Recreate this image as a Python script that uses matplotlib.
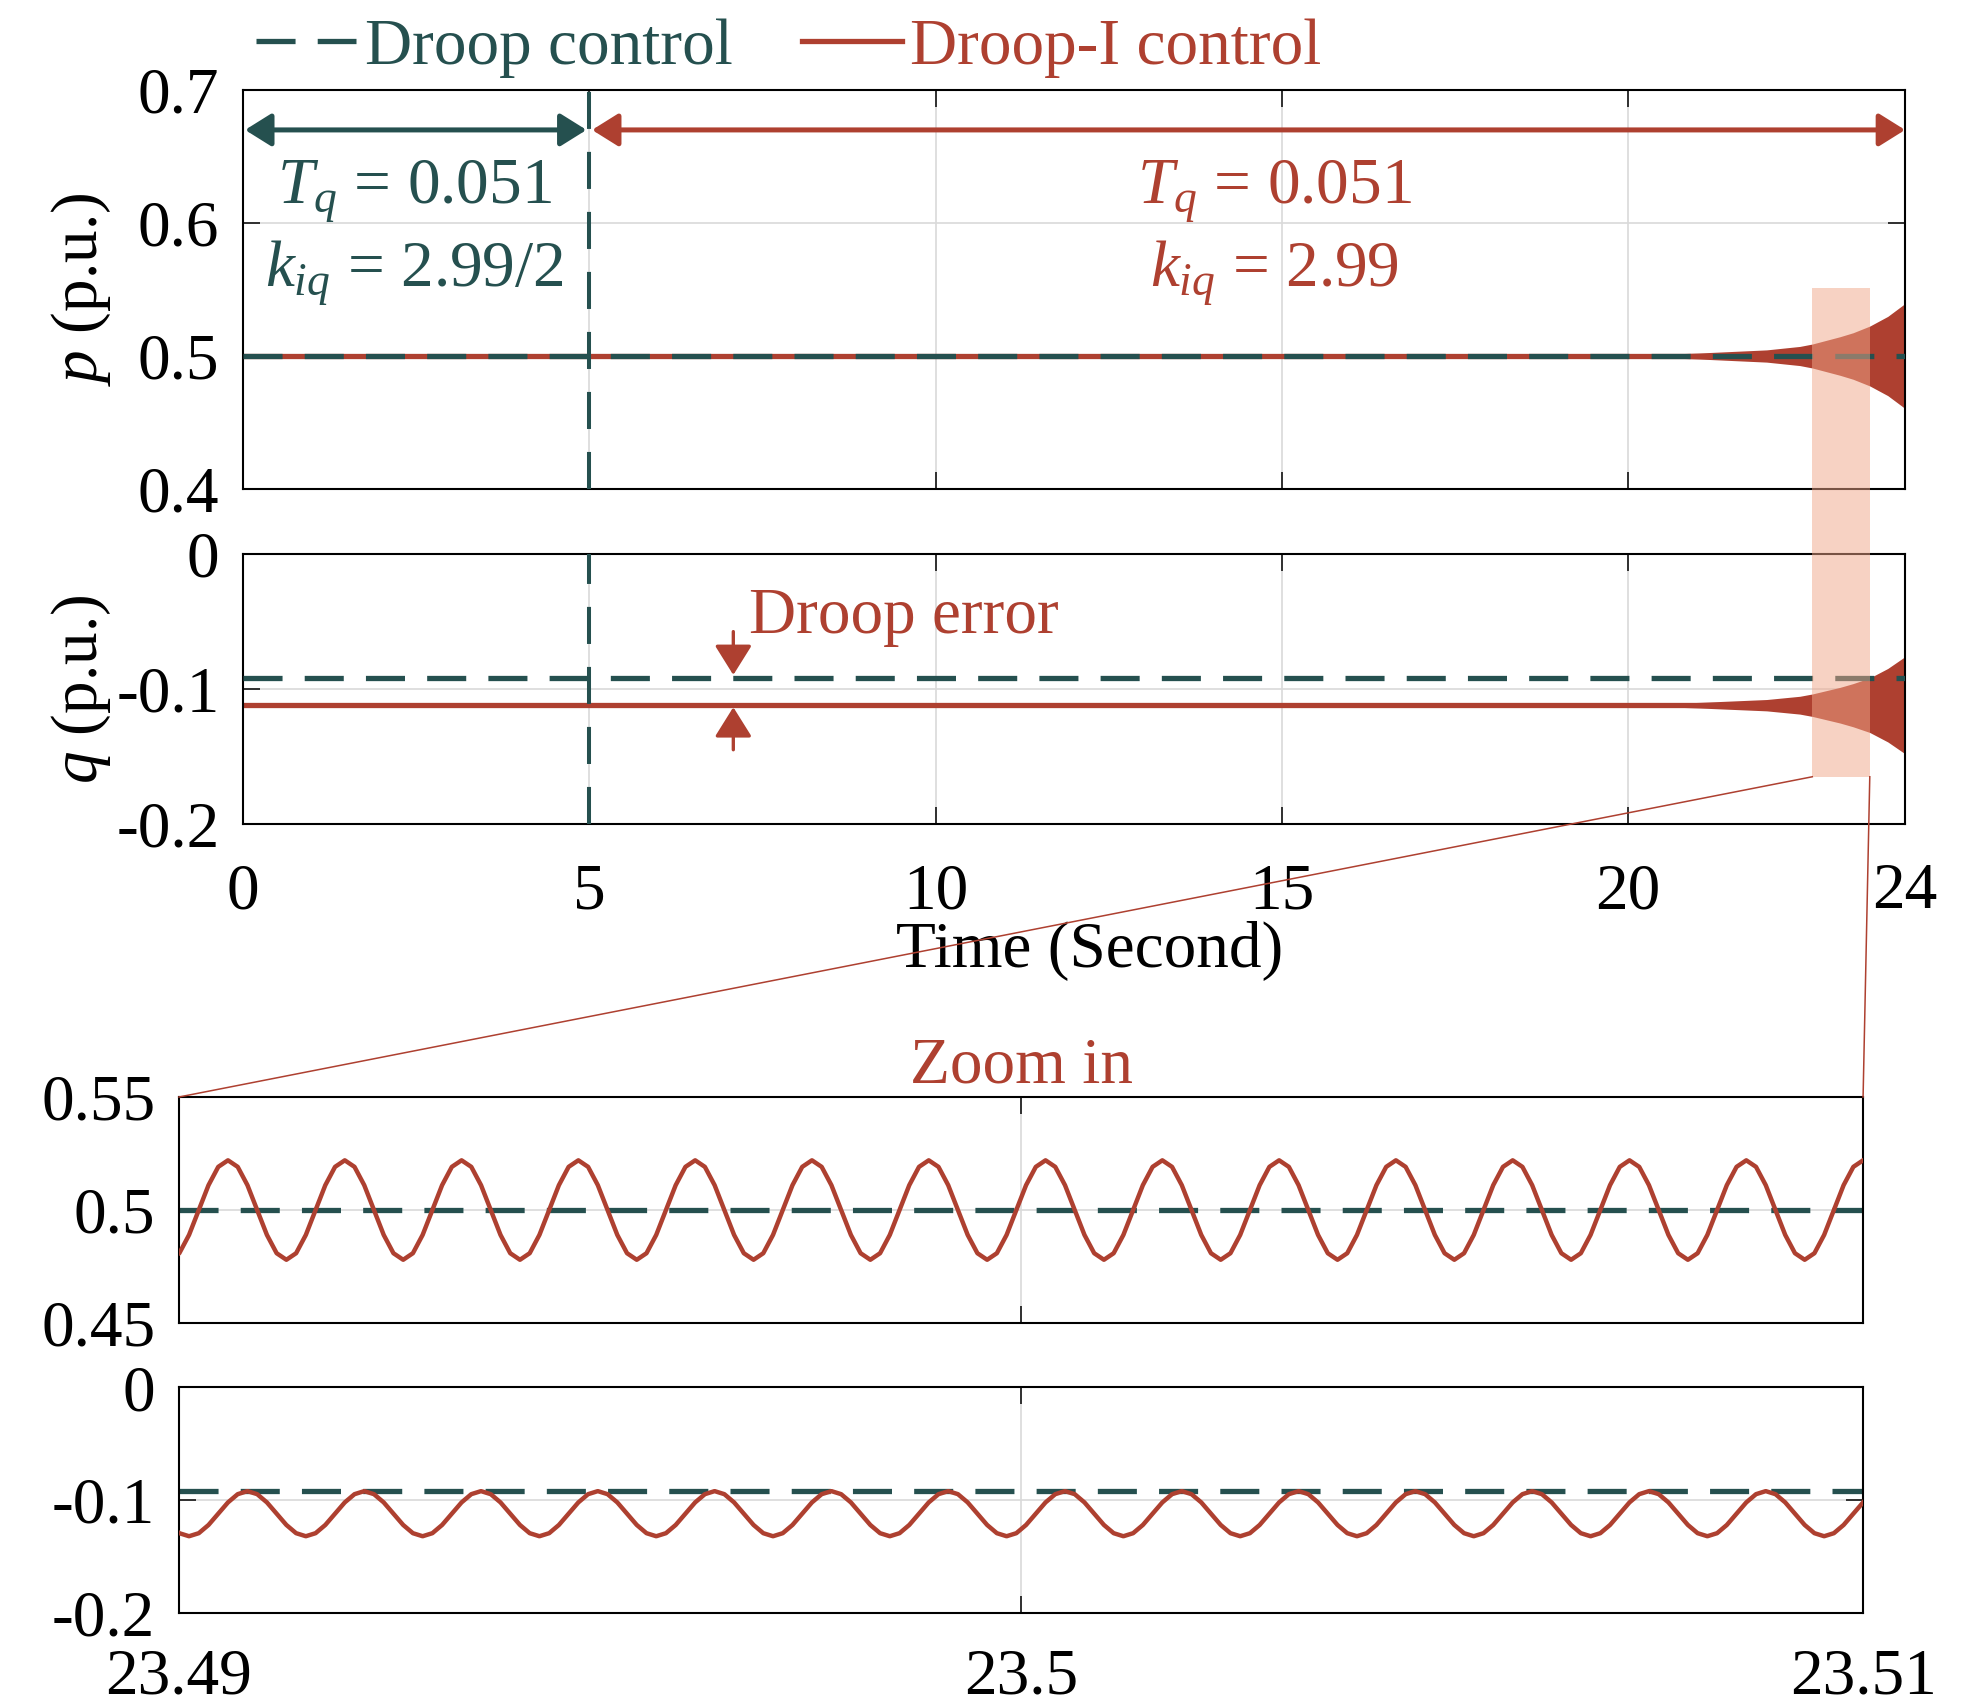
import numpy as np
import matplotlib
matplotlib.use("Agg")
import matplotlib.pyplot as plt
from matplotlib.patches import Rectangle
from matplotlib.lines import Line2D

plt.rcParams.update({
    "font.family": "Liberation Serif",
    "mathtext.fontset": "custom",
    "mathtext.rm": "Liberation Serif",
    "mathtext.it": "Liberation Serif:italic",
    "font.size": 47,
    "axes.unicode_minus": False,
})

teal = "#25504F"
red = "#AE4030"
band_color = "#F1A688"

# steady-state levels (p.u.)
t_span = [0, 24]
t_switch = 5
p_droop = 0.5
p_droop_i = 0.5
q_droop = -0.092
q_droop_i = -0.112

# half-width of the growing oscillation (Droop-I), read along the time axis
env_t = [0, 19.0, 20.4, 21.04, 22.0, 22.48, 22.66, 23.06, 23.25, 23.49, 23.75, 24.0]
p_env = [0, 0, 0.0011, 0.0023, 0.0046, 0.0072, 0.009, 0.0145, 0.0175, 0.0225, 0.0298, 0.0395]
q_env = [0, 0, 0.0010, 0.0021, 0.0042, 0.0066, 0.0083, 0.0132, 0.0160, 0.0202, 0.0272, 0.036]

# zoomed window: one oscillation period sampled in 12 steps, starting at a p peak
zoom_lim = [23.49, 23.51]
zoom_period = 1.387e-3
p_cycle = [0.522, 0.5191, 0.511, 0.5, 0.489, 0.4809, 0.478, 0.4809, 0.489, 0.5, 0.511, 0.5191]
q_cycle = [-0.102, -0.0947, -0.092, -0.0947, -0.102, -0.112, -0.122, -0.1293, -0.132, -0.1293, -0.122, -0.112]

# highlighted band on the long-time plots
band_x = [22.66, 23.49]
band_top_p = 0.551
band_bottom_q = -0.165

LW = 3.8
DASH = (0, (7.4, 4.2))

fig = plt.figure(figsize=(19.82, 17.05), dpi=100)
ax_p = fig.add_axes([0.1226, 0.7132, 0.8386, 0.2340])
ax_q = fig.add_axes([0.1226, 0.5167, 0.8386, 0.1584])
ax_zp = fig.add_axes([0.0903, 0.2240, 0.8497, 0.1326])
ax_zq = fig.add_axes([0.0903, 0.0540, 0.8497, 0.1323])

for ax in (ax_p, ax_q, ax_zp, ax_zq):
    ax.tick_params(direction="in", length=12, width=1.1, top=True, right=True, pad=17)
    ax.grid(True, color="#d9d9d9", lw=1.2)
    for s in ax.spines.values():
        s.set_linewidth(1.5)
ax_q.tick_params(axis="x", pad=28)
ax_zq.tick_params(axis="x", pad=25)


def ticks(ax, axis, vals):
    labels = [f"{v:g}" for v in vals]
    if axis == "x":
        ax.set_xticks(vals, labels=labels)
    else:
        ax.set_yticks(vals, labels=labels)


# ---- long-time p ----
env_t_a = np.array(env_t)
ax_p.fill_between(env_t_a, p_droop_i - np.array(p_env), p_droop_i + np.array(p_env),
                  color=red, lw=0, zorder=2)
l_droop_i, = ax_p.plot(t_span, [p_droop_i] * 2, color=red, lw=LW, zorder=2,
                       label="Droop-I control")
l_droop, = ax_p.plot(t_span, [p_droop] * 2, color=teal, lw=LW, ls=DASH, zorder=3,
                     label="Droop control")
ax_p.axvline(t_switch, color=teal, lw=2.9, ls=(0, (9.2, 5.7)), zorder=3)
ax_p.set_xlim(t_span)
ax_p.set_ylim(0.4, 0.7)
ticks(ax_p, "x", [0, 5, 10, 15, 20, 24])
ticks(ax_p, "y", [0.4, 0.5, 0.6, 0.7])
ax_p.tick_params(labelbottom=False)
ax_p.set_ylabel("$p$ (p.u.)")
ax_p.yaxis.set_label_coords(-0.078, 0.5)

arrow_kw = dict(arrowstyle="<|-|>,head_length=0.8,head_width=0.5", lw=3.6,
                shrinkA=0, shrinkB=0, mutation_scale=20)
ax_p.annotate("", xy=(0.03, 0.670), xytext=(4.96, 0.670),
              arrowprops=dict(color=teal, **arrow_kw))
ax_p.annotate("", xy=(5.04, 0.670), xytext=(24, 0.670),
              arrowprops=dict(color=red, **arrow_kw))
ax_p.text(2.48, 0.6143, "$T_q$ = 0.051", color=teal, ha="center", va="baseline")
ax_p.text(2.48, 0.5519, "$k_{iq}$ = 2.99/2", color=teal, ha="center", va="baseline")
ax_p.text(14.9, 0.6143, "$T_q$ = 0.051", color=red, ha="center", va="baseline")
ax_p.text(14.9, 0.5519, "$k_{iq}$ = 2.99", color=red, ha="center", va="baseline")

# ---- long-time q ----
ax_q.fill_between(env_t_a, q_droop_i - np.array(q_env), q_droop_i + np.array(q_env),
                  color=red, lw=0, zorder=2)
ax_q.plot(t_span, [q_droop_i] * 2, color=red, lw=LW, zorder=2)
ax_q.plot(t_span, [q_droop] * 2, color=teal, lw=LW, ls=DASH, zorder=3)
ax_q.axvline(t_switch, color=teal, lw=2.9, ls=(0, (9.2, 5.7)), zorder=3)
ax_q.set_xlim(t_span)
ax_q.set_ylim(-0.2, 0)
ticks(ax_q, "x", [0, 5, 10, 15, 20, 24])
ticks(ax_q, "y", [-0.2, -0.1, 0])
ax_q.set_ylabel("$q$ (p.u.)")
ax_q.yaxis.set_label_coords(-0.078, 0.5)
ax_q.set_xlabel("Time (Second)")
ax_q.xaxis.set_label_coords(0.5096, -0.36)

err_kw = dict(arrowstyle="-|>,head_length=0.8,head_width=0.5", lw=2.4,
              shrinkA=0, shrinkB=0, mutation_scale=23, color=red)
ax_q.annotate("", xy=(7.08, -0.0896), xytext=(7.08, -0.0575), arrowprops=err_kw)
ax_q.annotate("", xy=(7.08, -0.1135), xytext=(7.08, -0.145), arrowprops=err_kw)
ax_q.text(7.30, -0.0587, "Droop error", color=red, ha="left", va="baseline")

# ---- zoomed window ----
n_per = len(p_cycle)
n_samp = 15 * n_per + 1
t_zoom = zoom_lim[1] - zoom_period * np.arange(n_samp - 1, -1, -1) / n_per
p_zoom = np.resize(p_cycle, n_samp)
q_zoom = np.resize(q_cycle, n_samp)

ax_zp.plot(zoom_lim, [p_droop] * 2, color=teal, lw=LW, ls=DASH, zorder=2)
ax_zp.plot(t_zoom, p_zoom, color=red, lw=3.2, zorder=3)
ax_zp.set_xlim(zoom_lim)
ax_zp.set_ylim(0.45, 0.55)
ticks(ax_zp, "x", [23.49, 23.5, 23.51])
ticks(ax_zp, "y", [0.45, 0.5, 0.55])
ax_zp.tick_params(labelbottom=False)
ax_zp.set_title("Zoom in", color=red, pad=8.4, fontsize=47)

ax_zq.plot(zoom_lim, [q_droop] * 2, color=teal, lw=LW, ls=DASH, zorder=2)
ax_zq.plot(t_zoom, q_zoom, color=red, lw=3.2, zorder=3)
ax_zq.set_xlim(zoom_lim)
ax_zq.set_ylim(-0.2, 0)
ticks(ax_zq, "x", [23.49, 23.5, 23.51])
ticks(ax_zq, "y", [-0.2, -0.1, 0])

# ---- highlight band and connector lines ----
inv = fig.transFigure.inverted()
bx0, by_top = inv.transform(ax_p.transData.transform((band_x[0], band_top_p)))
bx1, _ = inv.transform(ax_p.transData.transform((band_x[1], band_top_p)))
_, by_bot = inv.transform(ax_q.transData.transform((band_x[0], band_bottom_q)))
fig.add_artist(Rectangle((bx0, by_bot), bx1 - bx0, by_top - by_bot, transform=fig.transFigure,
                         fc=band_color, alpha=0.5, lw=0, zorder=5))
zpos = ax_zp.get_position()
fig.add_artist(Line2D([bx0, zpos.x0], [by_bot, zpos.y1], color=red, lw=1.1,
                      transform=fig.transFigure, zorder=5))
fig.add_artist(Line2D([bx1, zpos.x1], [by_bot, zpos.y1], color=red, lw=1.1,
                      transform=fig.transFigure, zorder=5))

fig.legend(handles=[l_droop, l_droop_i], loc="center", bbox_to_anchor=(0.398, 0.972),
           ncol=2, frameon=False, handlelength=1.53, handletextpad=0.13,
           columnspacing=1.06, labelcolor="linecolor", borderaxespad=0, borderpad=0)

fig.savefig("out.png", dpi=100)
